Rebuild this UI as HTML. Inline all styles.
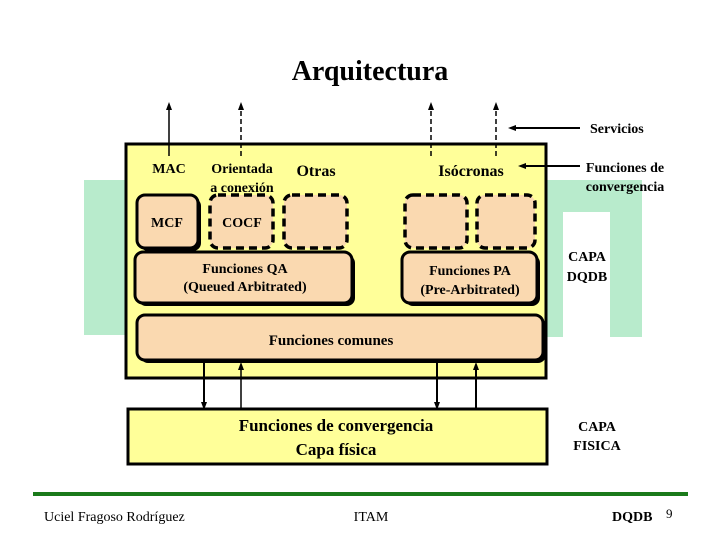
<!DOCTYPE html>
<html><head><meta charset="utf-8"><style>
body{margin:0;background:#fff}
svg text{font-family:"Liberation Serif",serif;}
</style></head><body>
<svg width="720" height="540" xmlns="http://www.w3.org/2000/svg">
<defs><marker id="a" markerUnits="userSpaceOnUse" markerWidth="8" markerHeight="8" refX="4" refY="4" orient="auto"><path d="M0,1 L8,4 L0,7 z" fill="#000"/></marker></defs>
<text x="370" y="80" font-size="28" font-weight="bold" text-anchor="middle">Arquitectura</text>
<rect x="84" y="180" width="42" height="155" fill="#b8ebcc"/>
<path d="M546 180 H642 V337 H610 V212 H563 V337 H546 Z" fill="#b8ebcc"/>
<rect x="126" y="144" width="420" height="234" fill="#ffff99" stroke="#000" stroke-width="3"/>
<line x1="169" y1="156" x2="169" y2="106" stroke="#000" stroke-width="1.5" marker-end="url(#a)"/>
<line x1="241" y1="156" x2="241" y2="106" stroke="#000" stroke-width="1.5" stroke-dasharray="5,3" marker-end="url(#a)"/>
<line x1="431" y1="156" x2="431" y2="106" stroke="#000" stroke-width="1.5" stroke-dasharray="5,3" marker-end="url(#a)"/>
<line x1="496" y1="156" x2="496" y2="106" stroke="#000" stroke-width="1.5" stroke-dasharray="5,3" marker-end="url(#a)"/>
<line x1="580" y1="128" x2="512" y2="128" stroke="#000" stroke-width="2" marker-end="url(#a)"/>
<line x1="580" y1="166" x2="522" y2="166" stroke="#000" stroke-width="2" marker-end="url(#a)"/>
<g font-size="14" font-weight="bold">
<text x="590" y="133">Servicios</text>
<text x="625" y="172" text-anchor="middle">Funciones de</text>
<text x="625" y="191" text-anchor="middle">convergencia</text>
<text x="587" y="261" text-anchor="middle">CAPA</text>
<text x="587" y="281" text-anchor="middle">DQDB</text>
<text x="597" y="431" text-anchor="middle">CAPA</text>
<text x="597" y="450" text-anchor="middle">FISICA</text>
<text x="169" y="173" text-anchor="middle">MAC</text>
<text x="242" y="173" text-anchor="middle">Orientada</text>
<text x="242" y="192" text-anchor="middle">a conexión</text>
<text x="316" y="176" text-anchor="middle" font-size="16">Otras</text>
<text x="471" y="176" text-anchor="middle" font-size="16">Isócronas</text>
</g>
<g fill="#000">
<rect x="140" y="198" width="61" height="53" rx="8"/>
<rect x="138" y="255" width="217" height="51" rx="8"/>
<rect x="405" y="255" width="135" height="51" rx="8"/>
<rect x="140" y="318" width="406" height="45" rx="8"/>
</g>
<g fill="#fad9b0" stroke="#000" stroke-width="3">
<rect x="137" y="195" width="61" height="53" rx="8"/>
<rect x="135" y="252" width="217" height="51" rx="8"/>
<rect x="402" y="252" width="135" height="51" rx="8"/>
<rect x="137" y="315" width="406" height="45" rx="8"/>
</g>
<g fill="#fad9b0" stroke="#000" stroke-width="3.5" stroke-dasharray="8,5">
<rect x="210" y="195" width="63" height="53" rx="8"/>
<rect x="284" y="195" width="63" height="53" rx="8"/>
<rect x="405" y="195" width="62" height="53" rx="8"/>
<rect x="477" y="195" width="58" height="53" rx="8"/>
</g>
<g font-size="14" font-weight="bold" text-anchor="middle">
<text x="167" y="227">MCF</text>
<text x="242" y="227">COCF</text>
<text x="245" y="273">Funciones QA</text>
<text x="245" y="291">(Queued Arbitrated)</text>
<text x="470" y="275">Funciones PA</text>
<text x="470" y="294">(Pre-Arbitrated)</text>
<text x="331" y="345" font-size="15">Funciones comunes</text>
</g>
<line x1="204" y1="362" x2="204" y2="406" stroke="#000" stroke-width="2" marker-end="url(#a)"/>
<line x1="241" y1="410" x2="241" y2="366" stroke="#000" stroke-width="1.5" marker-end="url(#a)"/>
<line x1="437" y1="362" x2="437" y2="406" stroke="#000" stroke-width="2" marker-end="url(#a)"/>
<line x1="476" y1="410" x2="476" y2="366" stroke="#000" stroke-width="2" marker-end="url(#a)"/>
<rect x="128" y="409" width="419" height="55" fill="#ffff99" stroke="#000" stroke-width="3"/>
<g font-size="17" font-weight="bold" text-anchor="middle">
<text x="336" y="431">Funciones de convergencia</text>
<text x="336" y="455">Capa física</text>
</g>
<rect x="33" y="492" width="655" height="4" fill="#1a7a1a"/>
<g font-size="14">
<text x="44" y="521">Uciel Fragoso Rodríguez</text>
<text x="371" y="521" text-anchor="middle">ITAM</text>
<text x="612" y="521" font-weight="bold">DQDB</text>
<text x="666" y="518" font-family="Liberation Sans,sans-serif" font-size="13">9</text>
</g>
</svg>
</body></html>
